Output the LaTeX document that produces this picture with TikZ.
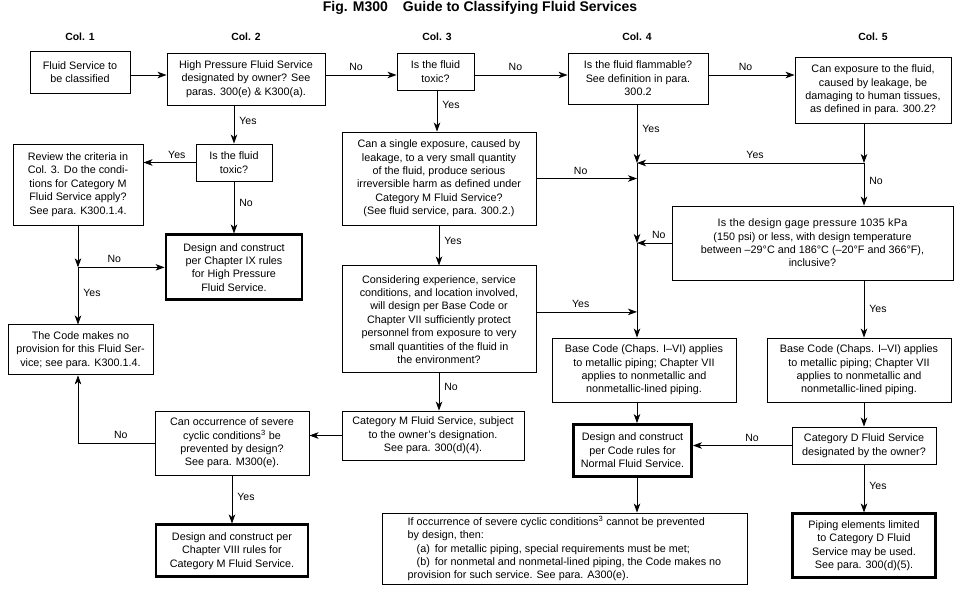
\documentclass[tikz,border=0pt]{standalone}
\usepackage{fontspec}
\setmainfont{Liberation Sans}
\usepackage{tikz}
\usetikzlibrary{positioning}
\usetikzlibrary{arrows.meta}
\newcommand{\boxfont}{\fontsize{10.8}{13.4}\selectfont}
\tikzset {
        flowbox/.style={align=center,inner sep=0pt, rectangle, draw, line width=0.9pt, font=\boxfont},
        endbox/.style={flowbox, line width=2.8pt},
        answer/.style={inner sep=1pt, font=\fontsize{10.5}{12}\selectfont},
        colhead/.style={inner sep=0pt, font=\bfseries\fontsize{10.4}{12}\selectfont},
        heading/.style={inner sep=0pt, font=\bfseries\fontsize{14}{16}\selectfont},
        flow/.style={line width=0.8pt, -{Stealth[length=9pt,width=6.5pt,inset=2.5pt]}}
}
\begin{document}
\begin{tikzpicture}[x=1pt,y=-1pt]
            \useasboundingbox (0,0) rectangle (961,595);
            \node[heading] (Title) at (480,8) {Fig. M300\hspace{15pt}Guide to Classifying Fluid Services};
            \node[colhead] (ColOne) at (80,37) {Col. 1};
            \node[colhead] (ColTwo) at (246,37) {Col. 2};
            \node[colhead] (ColThree) at (437,37) {Col. 3};
            \node[colhead] (ColFour) at (637,37) {Col. 4};
            \node[colhead] (ColFive) at (873,37) {Col. 5};

            % columns 1 and 2
            \node[flowbox, minimum width=100pt, minimum height=42pt] (FluidService) at (80,72) {
                Fluid Service to\\be classified
            };
            \node[flowbox, minimum width=158pt, minimum height=52pt] (HighPressure) at (246,79) {
                High Pressure Fluid Service\\designated by owner? See\\paras. 300(e) \& K300(a).
            };
            \node[flowbox, minimum width=76pt, minimum height=37pt] (ToxicTwo) at (234,162.5) {
                Is the fluid\\toxic?
            };
            \node[flowbox, minimum width=130pt, minimum height=81pt] (Review) at (78,184.5) {
                Review the criteria in\\Col. 3. Do the condi-\\tions for Category M\\Fluid Service apply?\\See para. K300.1.4.
            };
            \node[below=52pt of ToxicTwo, endbox, minimum width=136pt, minimum height=65pt] (HighPressureDesign) {
                Design and construct\\per Chapter IX rules\\for High Pressure\\Fluid Service.
            };
            \node[below=99pt of Review, xshift=2.5pt, flowbox, minimum width=145pt, minimum height=50pt] (NoProvision) {
                The Code makes no\\provision for this Fluid Ser-\\vice; see para. K300.1.4.
            };
            \node[flowbox, minimum width=154pt, minimum height=64pt] (CyclicM) at (232,443) {
                Can occurrence of severe\\cyclic conditions\textsuperscript{3} be\\prevented by design?\\See para. M300(e).
            };
            \node[below=48pt of CyclicM, endbox, minimum width=152pt, minimum height=52pt] (CategoryMDesign) {
                Design and construct per\\Chapter VIII rules for\\Category M Fluid Service.
            };

            % column 3
            \node[flowbox, minimum width=77pt, minimum height=37pt] (ToxicThree) at (435.5,71.5) {
                Is the fluid\\toxic?
            };
            \node[flowbox, minimum width=194pt, minimum height=93pt] (SingleExposure) at (439,178.5) {
                Can a single exposure, caused by\\leakage, to a very small quantity\\of the fluid, produce serious\\irreversible harm as defined under\\Category M Fluid Service?\\(See fluid service, para. 300.2.)
            };
            \node[below=40pt of SingleExposure, flowbox, minimum width=194pt, minimum height=107pt] (Considering) {
                Considering experience, service\\conditions, and location involved,\\will design per Base Code or\\Chapter VII sufficiently protect\\personnel from exposure to very\\small quantities of the fluid in\\the environment?
            };
            \node[flowbox, minimum width=182pt, minimum height=49pt] (CategoryM) at (433,435.5) {
                Category M Fluid Service, subject\\to the owner’s designation.\\See para. 300(d)(4).
            };

            % columns 4 and 5
            \node[flowbox, minimum width=140pt, minimum height=51pt] (Flammable) at (638,78.5) {
                Is the fluid flammable?\\See definition in para.\\300.2
            };
            \node[flowbox, minimum width=156pt, minimum height=66pt] (Damaging) at (873,90) {
                Can exposure to the fluid,\\caused by leakage, be\\damaging to human tissues,\\as defined in para. 300.2?
            };
            \node[flowbox, minimum width=281pt, minimum height=74pt] (GagePressure) at (812.5,243) {\addfontfeature{LetterSpace=2.5}%
                Is the design gage pressure 1035 kPa\\(150 psi) or less, with design temperature\\between –29°C and 186°C (–20°F and 366°F),\\inclusive?
            };
            \node[flowbox, minimum width=184pt, minimum height=64pt] (BaseCodeFour) at (644,370) {
                Base Code (Chaps. I–VI) applies\\to metallic piping; Chapter VII\\applies to nonmetallic and\\nonmetallic-lined piping.
            };
            \node[flowbox, minimum width=184pt, minimum height=64pt] (BaseCodeFive) at (859,370) {
                Base Code (Chaps. I–VI) applies\\to metallic piping; Chapter VII\\applies to nonmetallic and\\nonmetallic-lined piping.
            };
            \node[endbox, minimum width=118pt, minimum height=52pt] (NormalDesign) at (632.5,450.5) {
                Design and construct\\per Code rules for\\Normal Fluid Service.
            };
            \node[flowbox, minimum width=144pt, minimum height=37pt] (CategoryD) at (864,445.5) {
                Category D Fluid Service\\designated by the owner?
            };
            \node[below=48pt of CategoryD, endbox, minimum width=143pt, minimum height=64pt] (CategoryDPiping) {
                Piping elements limited\\to Category D Fluid\\Service may be used.\\See para. 300(d)(5).
            };
            \node[flowbox, align=left, minimum width=365pt, minimum height=71pt] (CyclicNote) at (564.5,548.5) {
                If occurrence of severe cyclic conditions\textsuperscript{3} cannot be prevented\\by design, then:\\\hspace*{9pt}(a)\hspace{5pt}for metallic piping, special requirements must be met;\\\hspace*{9pt}(b)\hspace{5pt}for nonmetal and nonmetal-lined piping, the Code makes no\\provision for such service. See para. A300(e).
            };

            \coordinate (TopRow) at (0,75);
            \coordinate (JoinFour) at (637,163);
            \coordinate (JoinFive) at (864,163);
            \coordinate (JoinGage) at (JoinFour |- GagePressure.west);
            \coordinate (JoinReview) at (Review.south |- HighPressureDesign.west);

            \draw[flow] (FluidService.east |- TopRow) -- (HighPressure.west |- TopRow);
            \draw[flow] (HighPressure.east |- TopRow) -- node[answer, above=3pt, pos=0.43] (NoHigh) {No} (ToxicThree.west |- TopRow);
            \draw[flow] (ToxicThree.east |- TopRow) -- node[answer, above=3pt, pos=0.44] (NoToxic) {No} (Flammable.west |- TopRow);
            \draw[flow] (Flammable.east |- TopRow) -- node[answer, above=3pt, pos=0.43] (NoFlammable) {No} (Damaging.west |- TopRow);

            \draw[flow] (HighPressure.south -| ToxicTwo.north) -- node[answer, right=4pt, pos=0.4] (YesHigh) {Yes} (ToxicTwo.north);
            \draw[flow] (ToxicTwo.west) -- node[answer, above=3pt, pos=0.36] (YesToxicTwo) {Yes} (ToxicTwo.west -| Review.east);
            \draw[flow] (ToxicTwo.south) -- node[answer, right=4pt, pos=0.42] (NoToxicTwo) {No} (ToxicTwo.south |- HighPressureDesign.north);
            \draw[flow] (Review.south) -- (JoinReview);
            \draw[flow] (JoinReview) -- node[answer, above=3pt, pos=0.42] (NoReview) {No} (HighPressureDesign.west);
            \draw[flow] (JoinReview) -- node[answer, right=4pt, pos=0.45] (YesReview) {Yes} (JoinReview |- NoProvision.north);
            \draw[flow] (CyclicM.west) -| node[answer, above=3pt, pos=0.22] (NoCyclic) {No} (JoinReview |- NoProvision.south);
            \draw[flow] (CyclicM.south) -- node[answer, right=4pt, pos=0.44] (YesCyclic) {Yes} (CyclicM.south |- CategoryMDesign.north);

            \draw[flow] (ToxicThree.south -| 437,0) -- node[answer, right=4pt, pos=0.36] (YesToxicThree) {Yes} (SingleExposure.north -| 437,0);
            \draw[flow] (SingleExposure.south) -- node[answer, right=4pt, pos=0.38] (YesSingle) {Yes} (Considering.north);
            \draw[flow] (Considering.south) -- node[answer, right=4pt, pos=0.36] (NoConsidering) {No} (Considering.south |- CategoryM.north);
            \draw[flow] (CategoryM.west) -- (CategoryM.west -| CyclicM.east);
            \draw[flow] (SingleExposure.east) -- node[answer, above=3pt, pos=0.44] (NoSingle) {No} (SingleExposure.east -| JoinFour);
            \draw[flow] ([yshift=7.5pt]Considering.east) -- node[answer, above=3pt, pos=0.44] (YesConsidering) {Yes} ([yshift=7.5pt]Considering.east -| JoinFour);

            \draw[flow] (Flammable.south -| JoinFour) -- node[answer, right=4pt, pos=0.42] (YesFlammable) {Yes} (JoinFour);
            \draw[flow] (JoinFour) -- (JoinGage);
            \draw[flow] (JoinGage) -- (JoinGage |- BaseCodeFour.north);
            \draw[flow] (Damaging.south -| JoinFive) -- (JoinFive);
            \draw[flow] (JoinFive) -- node[answer, above=3pt, pos=0.48] (YesDamaging) {Yes} (JoinFour);
            \draw[flow] (JoinFive) -- node[answer, right=4pt, pos=0.42] (NoDamaging) {No} (JoinFive |- GagePressure.north);
            \draw[flow] (GagePressure.west) -- node[answer, above=3pt, pos=0.37] (NoGage) {No} (JoinGage);
            \draw[flow] (GagePressure.south -| JoinFive) -- node[answer, right=4pt, pos=0.5] (YesGage) {Yes} (JoinFive |- BaseCodeFive.north);

            \draw[flow] (BaseCodeFour.south -| JoinFour) -- (JoinFour |- NormalDesign.north);
            \draw[flow] (BaseCodeFive.south -| JoinFive) -- (JoinFive |- CategoryD.north);
            \draw[flow] (CategoryD.west) -- node[answer, above=3pt, pos=0.4] (NoCategoryD) {No} (CategoryD.west -| NormalDesign.east);
            \draw[flow] (CategoryD.south) -- node[answer, right=4pt, pos=0.44] (YesCategoryD) {Yes} (CategoryDPiping.north);
            \draw[flow] (NormalDesign.south -| JoinFour) -- (JoinFour |- CyclicNote.north);
        \end{tikzpicture}
\end{document}
